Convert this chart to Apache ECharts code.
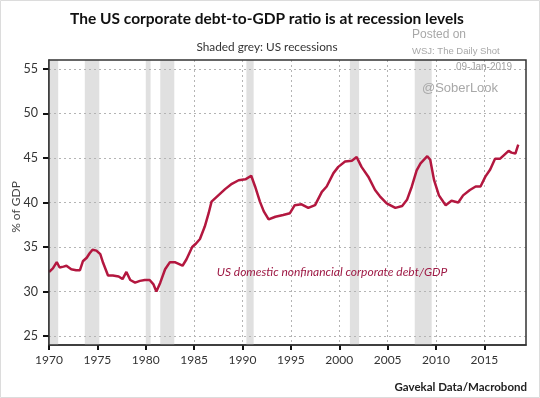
<!DOCTYPE html>
<html><head><meta charset="utf-8">
<script src="https://cdn.jsdelivr.net/npm/echarts@6/dist/echarts.min.js"></script>
<style>html,body{margin:0;padding:0;background:#fff}#c{width:540px;height:398px}</style>
</head><body><div id="c"></div>
<script>
// Data
const years = [1970.0,1970.4,1970.8,1971.1,1971.5,1971.8,1972.3,1972.8,1973.2,1973.5,1973.9,1974.2,1974.5,1974.9,1975.3,1975.6,1976.1,1976.6,1977.2,1977.6,1978.0,1978.4,1978.9,1979.4,1979.9,1980.4,1980.8,1981.1,1981.5,1982.0,1982.5,1983.0,1983.4,1983.8,1984.2,1984.8,1985.2,1985.6,1986.1,1986.5,1986.8,1987.5,1988.2,1988.9,1989.6,1990.3,1990.9,1991.3,1991.8,1992.2,1992.7,1993.4,1994.2,1994.9,1995.4,1996.1,1996.8,1997.5,1998.2,1998.7,1999.4,1999.9,2000.6,2001.3,2001.8,2002.3,2003.0,2003.7,2004.2,2004.9,2005.8,2006.5,2007.0,2007.5,2008.0,2008.4,2009.1,2009.4,2009.8,2010.3,2010.8,2011.0,2011.6,2012.3,2012.8,2013.5,2014.1,2014.6,2015.1,2015.6,2016.1,2016.6,2017.0,2017.5,2017.8,2018.2,2018.5];
const debtToGdp = [32.2,32.6,33.3,32.7,32.8,32.9,32.5,32.4,32.4,33.4,33.8,34.3,34.7,34.6,34.2,33.2,31.8,31.8,31.7,31.4,32.2,31.3,31.0,31.2,31.3,31.3,30.8,30.0,31.0,32.5,33.3,33.3,33.1,32.9,33.6,35.0,35.4,35.9,37.3,38.8,40.1,40.8,41.5,42.1,42.5,42.6,43.0,41.8,40.1,39.0,38.1,38.4,38.6,38.8,39.7,39.8,39.4,39.7,41.2,41.8,43.3,44.0,44.6,44.7,45.1,44.0,42.9,41.4,40.7,39.9,39.4,39.6,40.3,41.8,43.6,44.4,45.2,44.8,42.5,40.8,40.0,39.7,40.2,40.0,40.8,41.4,41.8,41.8,42.9,43.7,44.9,44.9,45.3,45.8,45.6,45.5,46.5];
const recessionStart = [1970.0,1973.7,1980.0,1981.5,1990.4,2001.1,2007.8];
const recessionEnd   = [1970.95,1975.2,1980.5,1982.95,1991.15,2002.05,2009.55];
const xTicks = [1970,1975,1980,1985,1990,1995,2000,2005,2010,2015];
const yTicks = [25,30,35,40,45,50,55];

const FONT = 'Lato';
const chart = echarts.init(document.getElementById('c'), null, {renderer:'canvas'});
const gridStyle = {color:'#b4b4b4', type:[2,3], width:1, opacity:1};
chart.setOption({
  animation:false,
  backgroundColor:'#fff',
  title:[
    {text:'The US corporate debt-to-GDP ratio is at recession levels', left:262, top:6, textAlign:'center',
     textStyle:{fontFamily:FONT, fontWeight:'bold', fontSize:15.5, color:'#111'}},
    {text:'Shaded grey: US recessions', left:262, top:36, textAlign:'center',
     textStyle:{fontFamily:FONT, fontWeight:'normal', fontSize:11.8, color:'#333'}},
    {text:'Gavekal Data/Macrobond', right:8, top:376,
     textStyle:{fontFamily:FONT, fontWeight:'bold', fontSize:11.5, color:'#222'}}
  ],
  graphic:[
    {type:'rect', shape:{x:0.5,y:0.5,width:539,height:397}, style:{fill:'none', stroke:'#dcdcdc', lineWidth:1}, silent:true, z:-1},
    {type:'text', x:412, y:35, style:{text:'Posted on', font:'12px Arial', fill:'#a8a8a8', textVerticalAlign:'middle'}},
    {type:'text', x:412, y:51, style:{text:'WSJ: The Daily Shot', font:'9.5px Arial', fill:'#a8a8a8', textVerticalAlign:'middle'}},
    {type:'text', x:456, y:67, z:100, style:{text:'09-Jan-2019', font:'10px Arial', fill:'#a0a0a0', textVerticalAlign:'middle'}},
    {type:'text', x:422, y:88, z:100, style:{text:'@SoberLook', font:'13px Arial', fill:'#a8a8a8', textVerticalAlign:'middle'}},
    {type:'text', x:16, y:207, rotation:Math.PI/2, style:{text:'% of GDP', font:'12px '+FONT, fill:'#444', textAlign:'center', textVerticalAlign:'middle'}},
    {type:'text', x:332, y:272, z:100, style:{text:'US domestic nonfinancial corporate debt/GDP', font:'italic 12px '+FONT, fill:'#9e1a45', textAlign:'center', textVerticalAlign:'middle'}}
  ],
  grid:{left:49, top:60, right:14, bottom:53, show:true, borderColor:'#333', borderWidth:1.5, backgroundColor:'transparent', z:10},
  xAxis:{type:'value', min:1970, max:2019.3, interval:5,
    axisLine:{show:true, onZero:false, lineStyle:{color:'#333', width:1.5}},
    axisTick:{show:true, length:5, lineStyle:{color:'#111', width:2}, customValues:xTicks},
    axisLabel:{fontFamily:FONT, fontSize:12, color:'#333', margin:9, customValues:xTicks, formatter:v=>String(v)},
    splitLine:{show:true, lineStyle:gridStyle}},
  yAxis:{type:'value', min:24, max:56,
    axisLine:{show:true, onZero:false, lineStyle:{color:'#333', width:1.5}},
    axisTick:{show:true, length:6, lineStyle:{color:'#111', width:2}, customValues:yTicks},
    axisLabel:{fontFamily:FONT, fontSize:12.5, color:'#333', margin:11, customValues:yTicks},
    splitLine:{show:false}},
  series:[{
    type:'line', data:years.map((y,i)=>[y,debtToGdp[i]]), showSymbol:false, smooth:false,
    lineStyle:{color:'#b3173f', width:2.5}, z:5,
    markArea:{silent:true, itemStyle:{color:'#e0e0e0'}, z:1,
      data:recessionStart.map((s,i)=>[{xAxis:s},{xAxis:recessionEnd[i]}])},
    markLine:{silent:true, symbol:['none','none'], label:{show:false}, lineStyle:gridStyle, z:2, animation:false,
      data:yTicks.map(v=>({yAxis:v}))}
  }]
});
</script></body></html>
